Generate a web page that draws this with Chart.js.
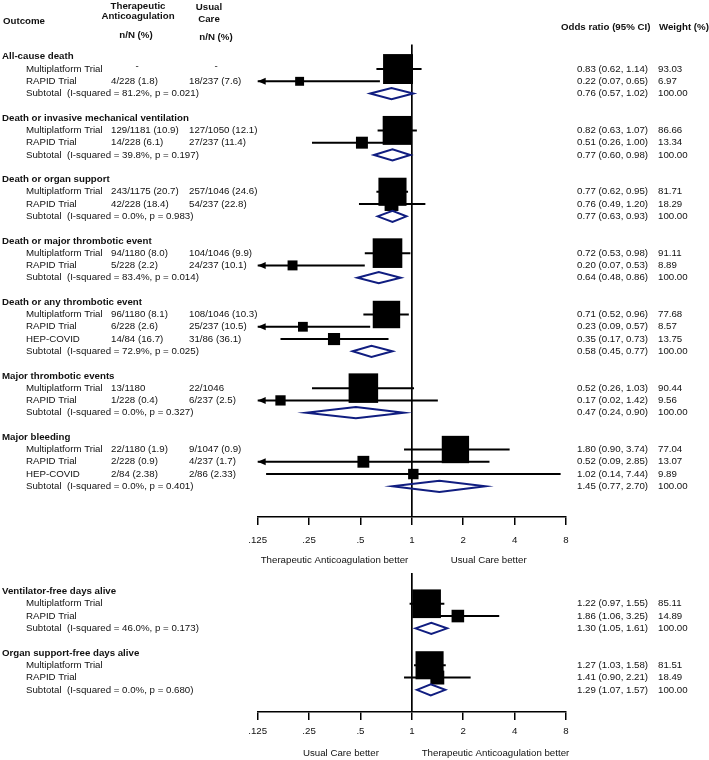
<!DOCTYPE html>
<html>
<head>
<meta charset="utf-8">
<script src="https://cdn.jsdelivr.net/npm/chart.js@4.4.1/dist/chart.umd.min.js"></script>
<style>
  html, body { margin: 0; padding: 0; background: #fff; }
  #wrap { position: relative; width: 709px; height: 760px; }
  canvas { position: absolute; left: 0; }
  #topChart { top: 0; }
  #bottomChart { top: 540px; }
</style>
</head>
<body>
<div id="wrap">
  <canvas id="topChart" width="709" height="572"></canvas>
  <canvas id="bottomChart" width="709" height="220"></canvas>
</div>
<script>
// axis
const tickValues = [0.125, 0.25, 0.5, 1, 2, 4, 8];
const tickLabels = [".125", ".25", ".5", "1", "2", "4", "8"];

// top panel
const topOutcomes = [
	"All-cause death",
	"Death or invasive mechanical ventilation",
	"Death or organ support",
	"Death or major thrombotic event",
	"Death or any thrombotic event",
	"Major thrombotic events",
	"Major bleeding",
];
const topStudies = [
	["Multiplatform Trial", "RAPID Trial"],
	["Multiplatform Trial", "RAPID Trial"],
	["Multiplatform Trial", "RAPID Trial"],
	["Multiplatform Trial", "RAPID Trial"],
	["Multiplatform Trial", "RAPID Trial", "HEP-COVID"],
	["Multiplatform Trial", "RAPID Trial"],
	["Multiplatform Trial", "RAPID Trial", "HEP-COVID"],
];
const topAnticoag = [
	["-", "4/228 (1.8)"],
	["129/1181 (10.9)", "14/228 (6.1)"],
	["243/1175 (20.7)", "42/228 (18.4)"],
	["94/1180 (8.0)", "5/228 (2.2)"],
	["96/1180 (8.1)", "6/228 (2.6)", "14/84 (16.7)"],
	["13/1180", "1/228 (0.4)"],
	["22/1180 (1.9)", "2/228 (0.9)", "2/84 (2.38)"],
];
const topUsual = [
	["-", "18/237 (7.6)"],
	["127/1050 (12.1)", "27/237 (11.4)"],
	["257/1046 (24.6)", "54/237 (22.8)"],
	["104/1046 (9.9)", "24/237 (10.1)"],
	["108/1046 (10.3)", "25/237 (10.5)", "31/86 (36.1)"],
	["22/1046", "6/237 (2.5)"],
	["9/1047 (0.9)", "4/237 (1.7)", "2/86 (2.33)"],
];
const topOR = [[0.83, 0.22], [0.82, 0.51], [0.77, 0.76], [0.72, 0.20], [0.71, 0.23, 0.35], [0.52, 0.17], [1.80, 0.52, 1.02]];
const topLow = [[0.62, 0.07], [0.63, 0.26], [0.62, 0.49], [0.53, 0.07], [0.52, 0.09, 0.17], [0.26, 0.02], [0.90, 0.09, 0.14]];
const topHigh = [[1.14, 0.65], [1.07, 1.00], [0.95, 1.20], [0.98, 0.53], [0.96, 0.57, 0.73], [1.03, 1.42], [3.74, 2.85, 7.44]];
const topWeight = [[93.03, 6.97], [86.66, 13.34], [81.71, 18.29], [91.11, 8.89], [77.68, 8.57, 13.75], [90.44, 9.56], [77.04, 13.07, 9.89]];
const topSubOR = [0.76, 0.77, 0.77, 0.64, 0.58, 0.47, 1.45];
const topSubLow = [0.57, 0.60, 0.63, 0.48, 0.45, 0.24, 0.77];
const topSubHigh = [1.02, 0.98, 0.93, 0.86, 0.77, 0.90, 2.70];
const topHet = [
	"I-squared = 81.2%, p = 0.021",
	"I-squared = 39.8%, p = 0.197",
	"I-squared = 0.0%, p = 0.983",
	"I-squared = 83.4%, p = 0.014",
	"I-squared = 72.9%, p = 0.025",
	"I-squared = 0.0%, p = 0.327",
	"I-squared = 0.0%, p = 0.401",
];

// bottom panel
const botOutcomes = ["Ventilator-free days alive", "Organ support-free days alive"];
const botStudies = [["Multiplatform Trial", "RAPID Trial"], ["Multiplatform Trial", "RAPID Trial"]];
const botOR = [[1.22, 1.86], [1.27, 1.41]];
const botLow = [[0.97, 1.06], [1.03, 0.90]];
const botHigh = [[1.55, 3.25], [1.58, 2.21]];
const botWeight = [[85.11, 14.89], [81.51, 18.49]];
const botSubOR = [1.30, 1.29];
const botSubLow = [1.05, 1.07];
const botSubHigh = [1.61, 1.57];
const botHet = ["I-squared = 46.0%, p = 0.173", "I-squared = 0.0%, p = 0.680"];

const FAM = "'Liberation Sans', Arial, sans-serif";
const FS = 9.7;
const DIAMOND = "#101d80";

function buildRows(outcomes, studies, ta, uc, or, lo, hi, wt, sOR, sLo, sHi, het) {
	const rows = [];
	let r = 0;
	outcomes.forEach(function (g, i) {
		rows.push({ kind: "head", y: r, text: g });
		r++;
		studies[i].forEach(function (s, j) {
			rows.push({
				kind: "study", y: r, name: s,
				ta: ta ? ta[i][j] : "", uc: uc ? uc[i][j] : "",
				or: or[i][j], lo: lo[i][j], hi: hi[i][j], w: wt[i][j],
			});
			r++;
		});
		rows.push({ kind: "sub", y: r, het: het[i], or: sOR[i], lo: sLo[i], hi: sHi[i] });
		r += 2;
	});
	return rows;
}

function boxSide(w) {
	return 3 * Math.sqrt(w) + 1;
}

function ciText(or, lo, hi) {
	return or.toFixed(2) + " (" + lo.toFixed(2) + ", " + hi.toFixed(2) + ")";
}

function txt(ctx, s, x, y, bold, align) {
	ctx.font = (bold ? "bold " : "") + FS + "px " + FAM;
	ctx.textAlign = align || "left";
	ctx.textBaseline = "middle";
	ctx.fillStyle = "#111";
	ctx.fillText(s, x, y);
}

function forest(rows, opts) {
	return {
		id: "forest",
		beforeDatasetsDraw(chart) {
			const ctx = chart.ctx;
			const xs = chart.scales.x;
			const ys = chart.scales.y;
			const area = chart.chartArea;
			ctx.save();
			ctx.strokeStyle = "#000";
			ctx.fillStyle = "#000";
			// line of no effect
			ctx.lineWidth = 1.7;
			const x1 = xs.getPixelForValue(1);
			ctx.beginPath();
			ctx.moveTo(x1, area.top);
			ctx.lineTo(x1, area.bottom);
			ctx.stroke();
			// confidence intervals
			ctx.lineWidth = 2;
			rows.filter(function (r) { return r.kind === "study"; }).forEach(function (r) {
				const y = ys.getPixelForValue(r.y);
				const a = xs.getPixelForValue(Math.max(r.lo, xs.min));
				const b = xs.getPixelForValue(Math.min(r.hi, xs.max));
				ctx.beginPath();
				ctx.moveTo(a, y);
				ctx.lineTo(b, y);
				ctx.stroke();
				if (r.lo < xs.min) {
					ctx.beginPath();
					ctx.moveTo(a, y);
					ctx.lineTo(a + 8, y - 3.5);
					ctx.lineTo(a + 8, y + 3.5);
					ctx.closePath();
					ctx.fill();
				}
			});
			ctx.restore();
		},
		afterDatasetsDraw(chart) {
			const ctx = chart.ctx;
			const xs = chart.scales.x;
			const ys = chart.scales.y;
			ctx.save();
			ctx.strokeStyle = DIAMOND;
			ctx.lineWidth = 2;
			rows.filter(function (r) { return r.kind === "sub"; }).forEach(function (r) {
				const y = ys.getPixelForValue(r.y);
				const l = xs.getPixelForValue(r.lo);
				const c = xs.getPixelForValue(r.or);
				const h = xs.getPixelForValue(r.hi);
				ctx.beginPath();
				ctx.moveTo(l, y);
				ctx.lineTo(c, y - 5.6);
				ctx.lineTo(h, y);
				ctx.lineTo(c, y + 5.6);
				ctx.closePath();
				ctx.stroke();
			});
			ctx.restore();
		},
		afterDraw(chart) {
			const ctx = chart.ctx;
			const ys = chart.scales.y;
			const area = chart.chartArea;
			ctx.save();
			rows.forEach(function (r) {
				const y = ys.getPixelForValue(r.y);
				if (r.kind === "head") {
					txt(ctx, r.text, 2, y, true);
				} else if (r.kind === "study") {
					txt(ctx, r.name, 26, y);
					if (r.ta === "-") txt(ctx, "-", 137, y - 3, false, "center");
					else if (r.ta) txt(ctx, r.ta, 111, y);
					if (r.uc === "-") txt(ctx, "-", 216, y - 3, false, "center");
					else if (r.uc) txt(ctx, r.uc, 189, y);
					txt(ctx, ciText(r.or, r.lo, r.hi), 577, y);
					txt(ctx, r.w.toFixed(2), 658, y);
				} else {
					txt(ctx, "Subtotal  (" + r.het + ")", 26, y);
					txt(ctx, ciText(r.or, r.lo, r.hi), 577, y);
					txt(ctx, "100.00", 658, y);
				}
			});
			const cy = area.bottom + opts.captionGap;
			opts.captions.forEach(function (c) {
				txt(ctx, c[0], c[1], cy);
			});
			if (opts.header) {
				txt(ctx, "Outcome", 3, 21, true);
				txt(ctx, "Therapeutic", 138, 6, true, "center");
				txt(ctx, "Anticoagulation", 138, 16.5, true, "center");
				txt(ctx, "n/N (%)", 136, 35.5, true, "center");
				txt(ctx, "Usual", 209, 7.5, true, "center");
				txt(ctx, "Care", 209, 19, true, "center");
				txt(ctx, "n/N (%)", 216, 37, true, "center");
				txt(ctx, "Odds ratio (95% CI)", 561, 27, true);
				txt(ctx, "Weight (%)", 659, 27, true);
			}
			ctx.restore();
		},
	};
}

function makeChart(id, rows, cfg) {
	const studyRows = rows.filter(function (r) { return r.kind === "study"; });
	return new Chart(document.getElementById(id), {
		type: "scatter",
		data: {
			datasets: [
				{
					data: studyRows.map(function (r) { return { x: r.or, y: r.y }; }),
					pointStyle: "rect",
					pointRadius: studyRows.map(function (r) { return boxSide(r.w) / Math.SQRT2; }),
					pointBackgroundColor: "#000",
					pointBorderWidth: 0,
					clip: false,
				},
			],
		},
		options: {
			responsive: false,
			animation: false,
			events: [],
			layout: { padding: { left: 257.7, right: 143, top: cfg.padTop, bottom: 0 } },
			plugins: { legend: { display: false }, tooltip: { enabled: false } },
			scales: {
				x: {
					type: "logarithmic",
					min: 0.125,
					max: 8,
					afterBuildTicks: function (s) {
						s.ticks = tickValues.map(function (v) { return { value: v }; });
					},
					afterFit: function (s) {
						s.height = cfg.axisH;
					},
					ticks: {
						callback: function (v, i) { return tickLabels[i]; },
						color: "#111",
						font: { family: FAM, size: FS },
						padding: cfg.tickPad,
						maxRotation: 0,
						autoSkip: false,
					},
					grid: { drawOnChartArea: false, tickLength: 8, color: "#000", lineWidth: 1.5 },
					border: { color: "#000", width: 1.5 },
				},
				y: { type: "linear", reverse: true, min: cfg.yMin, max: cfg.yMax, display: false },
			},
		},
		plugins: [forest(rows, cfg)],
	});
}

const topRows = buildRows(topOutcomes, topStudies, topAnticoag, topUsual, topOR, topLow, topHigh, topWeight, topSubOR, topSubLow, topSubHigh, topHet);
const botRows = buildRows(botOutcomes, botStudies, null, null, botOR, botLow, botHigh, botWeight, botSubOR, botSubLow, botSubHigh, botHet);

makeChart("topChart", topRows, {
	padTop: 44.5, axisH: 55, tickPad: 9.5, yMin: -1, yMax: 37.5, captionGap: 43, header: true,
	captions: [["Therapeutic Anticoagulation better", 260.7], ["Usual Care better", 450.7]],
});
makeChart("bottomChart", botRows, {
	padTop: 33, axisH: 48, tickPad: 5.5, yMin: -1.5, yMax: 9.8, captionGap: 41, header: false,
	captions: [["Usual Care better", 303], ["Therapeutic Anticoagulation better", 421.7]],
});
</script>
</body>
</html>
